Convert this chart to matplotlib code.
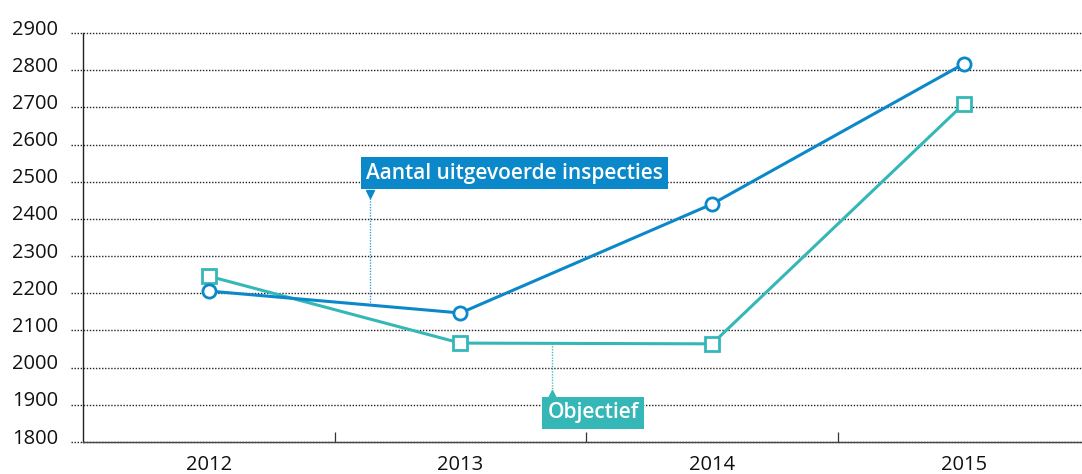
import matplotlib
matplotlib.use("Agg")
import matplotlib.pyplot as plt
import matplotlib.transforms as mtransforms

years = ["2012", "2013", "2014", "2015"]
inspecties = [2206, 2147, 2440, 2817]
objectief = [2246, 2066, 2064, 2709]
yticks = [1800, 1900, 2000, 2100, 2200, 2300, 2400, 2500, 2600, 2700, 2800, 2900]

BLUE = "#0b88c9"
TEAL = "#35b7b8"

plt.rcParams['font.family'] = ['Open Sans', 'DejaVu Sans']

fig = plt.figure(figsize=(10.82, 4.74), dpi=100)
ax = fig.add_axes([83/1082, 1-442/474, 1-83/1082, (442-33)/474])

x = list(range(len(years)))
ax.set_xlim(-0.5, 3.47)
ax.set_ylim(1800, 2900)

# gridlines extending left of the axis
trans = mtransforms.blended_transform_factory(ax.transAxes, ax.transData)
for v in yticks:
    ax.plot([-12/999, 1], [v, v], transform=trans, color="#222222", lw=1.0,
            linestyle=(0, (1, 1.2)), clip_on=False, zorder=1)

ax.plot(x, inspecties, color=BLUE, lw=2.2, marker="o", markersize=9.5,
        markerfacecolor="white", markeredgecolor=BLUE, markeredgewidth=2.0, zorder=4)
ax.plot(x, objectief, color=TEAL, lw=2.2, marker="s", markersize=9.5,
        markerfacecolor="white", markeredgecolor=TEAL, markeredgewidth=2.0, zorder=3)

# annotation: inspecties
ax.plot([0.639, 0.639], [2168, 2455], color=BLUE, lw=1.0, linestyle=(0, (1, 1)), alpha=0.8, zorder=2)
ax.plot([0.639], [2466], marker="v", color=BLUE, markersize=6, zorder=5)
ax.text(1.214, 2523, "Aantal uitgevoerde inspecties", color="white", fontsize=15,
        fontweight="semibold", ha="center", va="center", zorder=6,
        bbox=dict(boxstyle="square,pad=0.25", facecolor=BLUE, edgecolor="none"))

# annotation: objectief
ax.plot([1.365, 1.365], [2066, 1940], color=TEAL, lw=1.0, linestyle=(0, (1, 1)), alpha=0.9, zorder=2)
ax.plot([1.365], [1930], marker="^", color=TEAL, markersize=6, zorder=5)
ax.text(1.528, 1878, "Objectief", color="white", fontsize=15,
        fontweight="semibold", ha="center", va="center", zorder=6,
        bbox=dict(boxstyle="square,pad=0.25", facecolor=TEAL, edgecolor="none"))

ax.set_yticks(yticks)
ax.set_yticklabels([str(v) for v in yticks])
ax.set_xticks(x)
ax.set_xticklabels(years)
ax.set_xticks([0.5, 1.5, 2.5], minor=True)

ax.tick_params(axis="y", length=0, pad=18, labelsize=14.5, labelcolor="#111111")
ax.tick_params(axis="x", which="major", length=0, pad=9, labelsize=14.5, labelcolor="#111111")
ax.tick_params(axis="x", which="minor", direction="in", length=7, width=0.9, color="#333333")

# shift y labels slightly upward as in reference
offset = mtransforms.ScaledTranslation(0, 6/100, fig.dpi_scale_trans)
for lbl in ax.get_yticklabels():
    lbl.set_transform(lbl.get_transform() + offset)

for s in ["top", "right"]:
    ax.spines[s].set_visible(False)
ax.spines["left"].set_color("#222222")
ax.spines["left"].set_linewidth(1.0)
ax.spines["bottom"].set_color("#444444")
ax.spines["bottom"].set_linewidth(1.0)

fig.savefig("out.png", dpi=100)
